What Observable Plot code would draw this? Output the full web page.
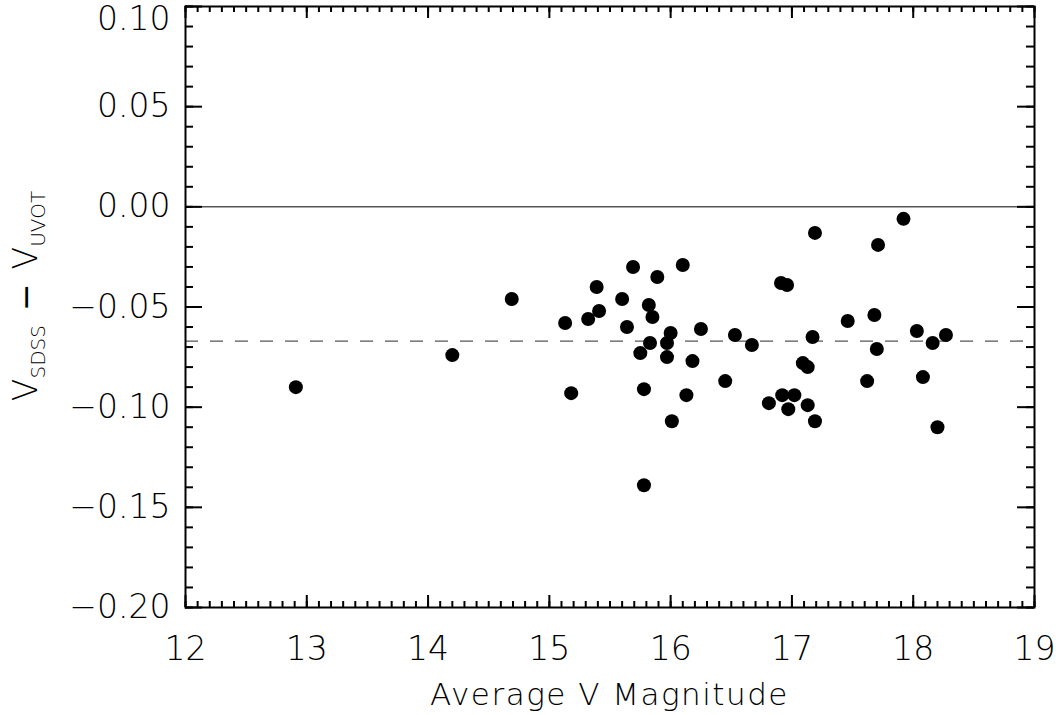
<!DOCTYPE html>
<html><head><meta charset="utf-8">
<script src="https://cdn.jsdelivr.net/npm/d3@7"></script>
<script src="https://cdn.jsdelivr.net/npm/@observablehq/plot@0.6"></script>
<style>body{margin:0;background:#fff}</style>
</head><body><div id="chart"></div>
<script>
// Average V magnitude of each star
const avgV = [12.91, 14.20, 14.69, 15.13, 15.18, 15.32, 15.39, 15.41, 15.60, 15.64,
  15.69, 15.75, 15.78, 15.78, 15.82, 15.83, 15.85, 15.89, 15.97, 15.97,
  16.00, 16.01, 16.10, 16.13, 16.18, 16.25, 16.45, 16.53, 16.67, 16.81,
  16.91, 16.96, 16.92, 16.97, 17.02, 17.09, 17.13, 17.13, 17.17, 17.19,
  17.19, 17.46, 17.62, 17.68, 17.70, 17.71, 17.92, 18.03, 18.08, 18.16,
  18.20, 18.27];
// V_SDSS - V_UVOT difference
const dV = [-0.090, -0.074, -0.046, -0.058, -0.093, -0.056, -0.040, -0.052, -0.046, -0.060,
  -0.030, -0.073, -0.139, -0.091, -0.049, -0.068, -0.055, -0.035, -0.068, -0.075,
  -0.063, -0.107, -0.029, -0.094, -0.077, -0.061, -0.087, -0.064, -0.069, -0.098,
  -0.038, -0.039, -0.094, -0.101, -0.094, -0.078, -0.080, -0.099, -0.065, -0.107,
  -0.013, -0.057, -0.087, -0.054, -0.071, -0.019, -0.006, -0.062, -0.085, -0.068,
  -0.110, -0.064];
const meanOffset = [-0.067];
const zeroLine = [0];
const xTicks = [12, 13, 14, 15, 16, 17, 18, 19];
const yTicks = [-0.20, -0.15, -0.10, -0.05, 0.00, 0.05, 0.10];
const xMinor = d3.range(120, 191).map(d => d / 10);
const yMinor = d3.range(-20, 11).map(d => d / 100);
const xTitle = "Average V Magnitude";

const W = 1060, H = 715, mL = 185, mR = 26, mT = 6, mB = 108;
const pw = W - mL - mR, ph = H - mT - mB;
const data = avgV.map((x, i) => ({x, y: dV[i]}));
const yTop = d3.max(yTicks);
const FONT = "DejaVu Sans";
const FW = 200;

const plot = Plot.plot({
  width: W, height: H,
  marginLeft: mL, marginRight: mR, marginTop: mT, marginBottom: mB,
  style: {fontFamily: FONT, fontWeight: FW, background: "white", color: "black"},
  x: {domain: [12, 19]},
  y: {domain: [-0.2, 0.1]},
  marks: [
    Plot.ruleY(zeroLine, {stroke: "black", strokeWidth: 1}),
    Plot.ruleY(meanOffset, {stroke: "#555", strokeWidth: 1.3, strokeDasharray: "13,12"}),
    Plot.dot(data, {x: "x", y: "y", r: 7, fill: "black", stroke: "none"}),
    Plot.ruleX(xTicks, {insetTop: ph - 12, strokeWidth: 2}),
    Plot.ruleX(xTicks, {insetBottom: ph - 12, strokeWidth: 2}),
    Plot.ruleX(xMinor, {insetTop: ph - 6, strokeWidth: 2}),
    Plot.ruleX(xMinor, {insetBottom: ph - 6, strokeWidth: 2}),
    Plot.ruleY(yTicks, {insetRight: pw - 17, strokeWidth: 2}),
    Plot.ruleY(yTicks, {insetLeft: pw - 17, strokeWidth: 2}),
    Plot.ruleY(yMinor, {insetRight: pw - 8, strokeWidth: 2}),
    Plot.ruleY(yMinor, {insetLeft: pw - 8, strokeWidth: 2}),
    Plot.frame({stroke: "black", strokeWidth: 2}),
    Plot.axisX(xTicks, {tickSize: 0, tickPadding: 29, fontSize: 33, tickFormat: d => String(d), label: null}),
    Plot.axisY(yTicks.filter(d => d !== yTop), {tickSize: 0, tickPadding: 15, fontSize: 33, tickFormat: d3.format(".2f"), label: null}),
    Plot.axisY([yTop], {tickSize: 0, tickPadding: 15, dy: 13, fontSize: 33, tickFormat: d3.format(".2f"), label: null})
  ]
});

const svg = d3.select(plot);
svg.append("text")
  .attr("x", mL + pw / 2).attr("y", 705)
  .attr("text-anchor", "middle")
  .attr("font-family", FONT).attr("font-weight", FW).attr("font-size", 31)
  .attr("letter-spacing", 1.5).attr("fill", "black")
  .text(xTitle);

const yt = svg.append("text")
  .attr("transform", `translate(37,296) rotate(-90)`)
  .attr("text-anchor", "middle")
  .attr("font-family", FONT).attr("font-weight", FW).attr("font-size", 33).attr("fill", "black");
yt.append("tspan").text("V");
yt.append("tspan").attr("font-size", 20).attr("dy", 8).text("SDSS");
yt.append("tspan").attr("dy", -8).attr("dx", 14).attr("font-weight", 400).text("\u2212");
yt.append("tspan").attr("dx", 14).text("V");
yt.append("tspan").attr("font-size", 20).attr("dy", 8).text("UVOT");

document.getElementById("chart").appendChild(plot);
</script>
</body></html>
